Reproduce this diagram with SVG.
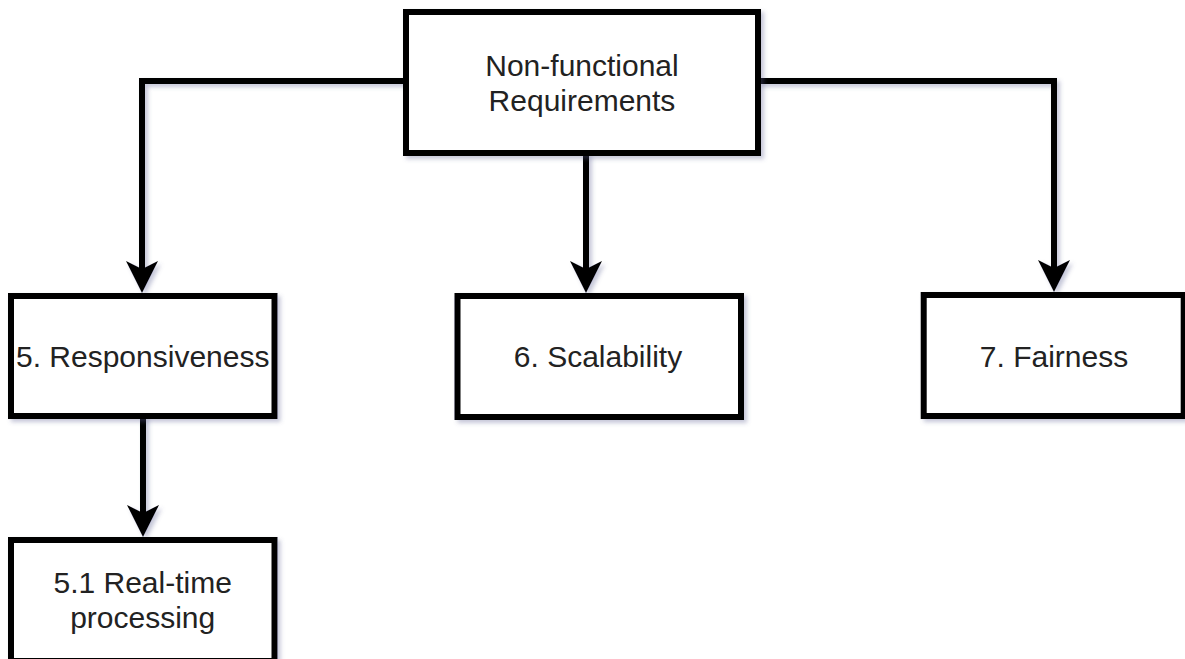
<svg xmlns="http://www.w3.org/2000/svg" width="1185" height="659" viewBox="0 0 1185 659">
  <style>
    .box { fill: #ffffff; stroke: #000000; stroke-width: 6; filter: url(#shadow); }
    .lbl { font-family: "Liberation Sans", Arial, sans-serif; font-size: 30px; fill: #222222; text-anchor: middle; }
    .edge { fill: none; stroke: #000000; stroke-width: 6; stroke-linejoin: miter; marker-end: url(#arrow); }
  </style>
  <defs>
    <filter id="shadow" x="-10%" y="-10%" width="130%" height="130%">
      <feDropShadow dx="3" dy="3" stdDeviation="2" flood-color="#5a6090" flood-opacity="0.35"/>
    </filter>
    <marker id="arrow" markerUnits="userSpaceOnUse" viewBox="0 0 34 34" markerWidth="34" markerHeight="34" refX="22" refY="17" orient="auto">
      <path d="M0,1 L32,17 L0,33 L8,17 Z" fill="#000000"/>
    </marker>
  </defs>
  <rect x="0" y="0" width="1185" height="659" fill="#ffffff"/>

  <g id="connectors" filter="url(#shadow)">
    <path class="edge" d="M406,81 L142,81 L142,283"/>
    <path class="edge" d="M586,153 L586,283"/>
    <path class="edge" d="M758,81 L1054,81 L1054,282"/>
    <path class="edge" d="M143,416 L143,527"/>
  </g>

  <g id="node-nfr">
    <rect class="box" x="406" y="12" width="352" height="141"/>
    <text class="lbl" x="582" y="76">Non-functional</text>
    <text class="lbl" x="582" y="111">Requirements</text>
  </g>

  <g id="node-responsiveness">
    <rect class="box" x="11" y="296" width="263.5" height="120"/>
    <text class="lbl" x="142.7" y="367">5. Responsiveness</text>
  </g>

  <g id="node-scalability">
    <rect class="box" x="457.5" y="296" width="283.5" height="121"/>
    <text class="lbl" x="598" y="367">6. Scalability</text>
  </g>

  <g id="node-fairness">
    <rect class="box" x="923.7" y="295" width="260" height="121"/>
    <text class="lbl" x="1054" y="367">7. Fairness</text>
  </g>

  <g id="node-realtime">
    <rect class="box" x="11" y="540" width="263.5" height="121"/>
    <text class="lbl" x="142.7" y="593">5.1 Real-time</text>
    <text class="lbl" x="142.7" y="628">processing</text>
  </g>
</svg>
